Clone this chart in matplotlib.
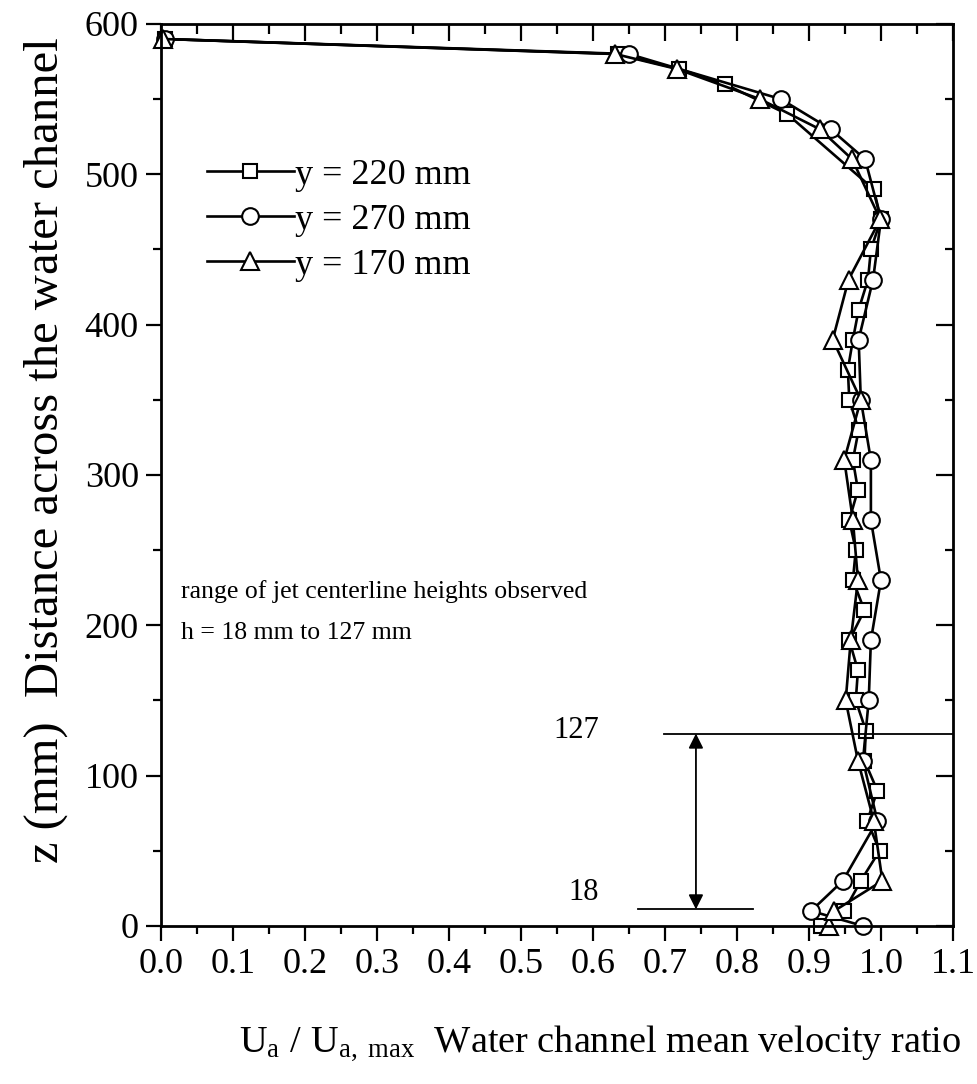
import numpy as np
import matplotlib
matplotlib.use("Agg")
import matplotlib.pyplot as plt
from matplotlib.ticker import MultipleLocator

plt.rcParams['font.family'] = ['Liberation Serif', 'DejaVu Serif']
plt.rcParams['mathtext.fontset'] = 'custom'
plt.rcParams['mathtext.rm'] = 'Liberation Serif'
plt.rcParams['mathtext.it'] = 'Liberation Serif'

#%% data (z in mm, U/Umax)

z_220 = [0, 10, 30, 50, 70, 90, 110, 130, 150, 170, 190, 210, 230, 250, 270, 290,
         310, 330, 350, 370, 390, 410, 430, 450, 470, 490, 540, 560, 570, 580, 590]
u_220 = [0.917, 0.949, 0.972, 0.998, 0.981, 0.995, 0.977, 0.979, 0.965, 0.968,
         0.956, 0.977, 0.961, 0.965, 0.956, 0.968, 0.961, 0.969, 0.956, 0.954,
         0.961, 0.969, 0.982, 0.986, 1.0, 0.99, 0.870, 0.783, 0.72, 0.635, 0.005]

z_270 = [0, 10, 30, 70, 110, 150, 190, 230, 270, 310, 350, 390, 430, 470,
         510, 530, 550, 580, 590]
u_270 = [0.975, 0.903, 0.947, 0.995, 0.975, 0.983, 0.986, 1.0, 0.986, 0.986,
         0.972, 0.969, 0.989, 1.0, 0.978, 0.930, 0.861, 0.65, 0.005]

z_170 = [0, 10, 30, 70, 110, 150, 190, 230, 270, 310, 350, 390, 430, 470,
         510, 530, 550, 570, 580, 590]
u_170 = [0.928, 0.935, 1.002, 0.990, 0.968, 0.951, 0.958, 0.968, 0.961, 0.949,
         0.972, 0.933, 0.955, 0.999, 0.960, 0.915, 0.832, 0.717, 0.631, 0.003]

labels = ['y = 220 mm', 'y = 270 mm', 'y = 170 mm']

# jet centerline range marks
h_text = ['18', '127']
h_line = [11, 128]

#%% figure

fig = plt.figure(figsize=(9.77, 10.84), dpi=100)
ax = fig.add_axes([0.1648, 0.1458, 0.8106, 0.8321])

common = dict(color='black', lw=1.9, mfc='white', mec='black', mew=1.5, clip_on=False)
ax.plot(u_220, z_220, marker='s', ms=10.5, label=labels[0], **common)
ax.plot(u_270, z_270, marker='o', ms=12, label=labels[1], **common)
ax.plot(u_170, z_170, marker='^', ms=12.5, label=labels[2], **common)

ax.set_xlim(0, 1.1)
ax.set_ylim(0, 600)
ax.xaxis.set_major_locator(MultipleLocator(0.1))
ax.xaxis.set_minor_locator(MultipleLocator(0.05))
ax.yaxis.set_major_locator(MultipleLocator(100))
ax.yaxis.set_minor_locator(MultipleLocator(50))
ax.xaxis.set_major_formatter(matplotlib.ticker.FormatStrFormatter('%.1f'))

ax.tick_params(which='major', direction='out', length=11, width=1.6, labelsize=26, pad=5)
ax.tick_params(which='minor', direction='out', length=5.5, width=1.6)
for s in ax.spines.values():
    s.set_linewidth(2.0)

# inward ticks on the top and right
top = ax.secondary_xaxis('top')
top.xaxis.set_major_locator(MultipleLocator(0.1))
top.xaxis.set_minor_locator(MultipleLocator(0.05))
top.set_xticklabels([])
top.tick_params(which='major', direction='in', length=12, width=1.6)
top.tick_params(which='minor', direction='in', length=7, width=1.6)
right = ax.secondary_yaxis('right')
right.yaxis.set_major_locator(MultipleLocator(100))
right.yaxis.set_minor_locator(MultipleLocator(50))
right.set_yticklabels([])
right.tick_params(which='major', direction='in', length=12, width=1.6)
right.tick_params(which='minor', direction='in', length=6, width=1.6)

ax.set_xlabel(r'$\mathrm{U_{a}\ /\ U_{a,\ max}}$  Water channel mean velocity ratio',
              fontsize=27.5)
ax.xaxis.set_label_coords(0.555, -0.108)
ax.set_ylabel('z (mm)  Distance across the water channel', fontsize=35)
ax.yaxis.set_label_coords(-0.118, 0.528)

leg = ax.legend(loc='upper left', bbox_to_anchor=(0.058, 0.851), frameon=False,
                fontsize=26, handlelength=2.4, handletextpad=0.05, labelspacing=0.33,
                borderaxespad=0, borderpad=0)

ax.text(0.028, 218, 'range of jet centerline heights observed', fontsize=18.5)
ax.text(0.028, 191, 'h = 18 mm to 127 mm', fontsize=18.5)

# range markers
ax.plot([0.662, 0.822], [h_line[0], h_line[0]], color='black', lw=1.3)
ax.plot([0.698, 1.1], [h_line[1], h_line[1]], color='black', lw=1.3)
ax.annotate('', xy=(0.743, h_line[1]), xytext=(0.743, h_line[0]),
            arrowprops=dict(arrowstyle='<|-|>', color='black', lw=1.3,
                            mutation_scale=22, shrinkA=0, shrinkB=0))
ax.text(0.608, h_line[0] + 11, h_text[0], fontsize=22, ha='right', va='center')
ax.text(0.608, h_line[1] + 2, h_text[1], fontsize=22, ha='right', va='center')

fig.savefig('out.png', dpi=100)
